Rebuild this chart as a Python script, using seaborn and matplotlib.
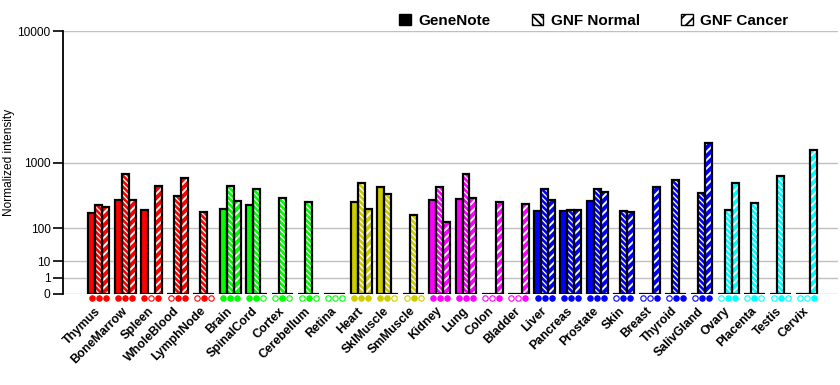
import numpy as np
import pandas as pd
import matplotlib
matplotlib.use("Agg")
import matplotlib.pyplot as plt
import matplotlib.transforms as mtransforms
from matplotlib.patches import Patch, Rectangle
import seaborn as sns

tissues = ["Thymus", "BoneMarrow", "Spleen", "WholeBlood", "LymphNode",
           "Brain", "SpinalCord", "Cortex", "Cerebellum", "Retina",
           "Heart", "SklMuscle", "SmMuscle",
           "Kidney", "Lung", "Colon", "Bladder",
           "Liver", "Pancreas", "Prostate", "Skin", "Breast", "Thyroid", "SalivGland",
           "Ovary", "Placenta", "Testis", "Cervix"]
tissue_colors = (["#FF0000"] * 5 + ["#00FF00"] * 5 + ["#CCCC00"] * 3 +
                 ["#FF00FF"] * 4 + ["#0000FF"] * 7 + ["#00FFFF"] * 4)

genenote = [202, 327, 225, 0, 0,
            237, 275, 0, 0, 0,
            308, 507, 0,
            330, 342, 0, 0,
            219, 219, 319, 0, 0, 0, 0,
            0, 0, 0, 0]
gnf_normal = [275, 741, 0, 380, 210,
              524, 477, 354, 308, 0,
              573, 406, 184,
              507, 741, 0, 0,
              477, 228, 477, 219, 0, 627, 419,
              228, 297, 701, 0]
gnf_cancer = [256, 327, 524, 658, 0,
              319, 0, 0, 0, 0,
              237, 0, 0,
              137, 354, 301, 286,
              330, 228, 434, 210, 507, 0, 1589,
              573, 0, 0, 1349]

# presence calls shown under each bar (1 = filled, 0 = hollow)
calls = ["111", "111", "101", "011", "010",
         "111", "110", "010", "010", "000",
         "111", "110", "010",
         "111", "111", "001", "001",
         "111", "111", "111", "011", "001", "011", "011",
         "011", "010", "010", "001"]

sources = ["GeneNote", "GNF Normal", "GNF Cancer"]
hatches = ["", "\\\\\\\\\\\\", "////"]
hatch_lw = [1.0, 0.9, 1.4]
y_ticks = [0, 1, 10, 100, 1000, 10000]

df = pd.DataFrame({
    "tissue": tissues * 3,
    "source": np.repeat(sources, len(tissues)),
    "value": genenote + gnf_normal + gnf_cancer,
})

plt.rcParams["font.family"] = ["Liberation Sans", "DejaVu Sans"]
plt.rcParams["hatch.linewidth"] = 1.3

fig = plt.figure(figsize=(8.4, 3.85), dpi=100)
ax = fig.add_axes([0.075, 0.2364, 0.923, 0.6823])

sns.barplot(data=df, x="tissue", y="value", hue="source", order=tissues,
            hue_order=sources, width=0.8, ax=ax, legend=False, errorbar=None)

# power scale: each decade is twice as tall as the one below
p = np.log10(2)
ax.set_yscale("function", functions=(lambda v: np.sign(v) * np.abs(v) ** p,
                                     lambda v: np.sign(v) * np.abs(v) ** (1 / p)))

# restyle the bars: tissue colour, white hatch, black outline drawn on top
n = len(tissues)
bw = 0.8 / 3
for bar in list(ax.patches):
    cx = bar.get_x() + bar.get_width() / 2
    i = int(round(cx))
    j = int(round((cx - i) / bw)) + 1
    bar.set_facecolor(tissue_colors[i])
    bar.set_edgecolor("white")
    bar.set_linewidth(0)
    bar.set_hatch(hatches[j])
    if hasattr(bar, "set_hatch_linewidth"):
        bar.set_hatch_linewidth(hatch_lw[j])
    ax.add_patch(Rectangle((bar.get_x(), 0), bar.get_width(), bar.get_height(),
                           fill=False, edgecolor="black", linewidth=1.6,
                           zorder=bar.get_zorder() + 0.1))

# call markers below the baseline
trans = mtransforms.blended_transform_factory(ax.transData, ax.transAxes)
for i, c in enumerate(calls):
    for j in range(3):
        x = i + (j - 1) * bw
        filled = c[j] == "1"
        ax.plot(x, -0.016, "o", transform=trans, clip_on=False, ms=3.9,
                mfc=tissue_colors[i] if filled else "white",
                mec=tissue_colors[i], mew=0.8)

ax.set_ylim(0, 10000)
ax.set_xlim(-1.37, n - 1 + 1.2)
ax.set_yticks(y_ticks)
ax.set_yticklabels([str(t) for t in y_ticks], fontsize=8.6)
ax.yaxis.grid(True, color="#C0C0C0", linewidth=1)
ax.set_axisbelow(True)
for s in ["top", "right", "bottom"]:
    ax.spines[s].set_visible(False)
ax.spines["left"].set_linewidth(1.3)
ax.tick_params(axis="y", length=7, width=1.2, pad=2)
ax.tick_params(axis="x", length=0, pad=11)
ax.set_xticks(range(n))
ax.set_xticklabels(tissues, rotation=45, ha="right", va="center",
                   rotation_mode="anchor", fontsize=8.8, fontweight="bold")
ax.set_xlabel("")
ax.set_ylabel("Normalized intensity", fontsize=8.6, labelpad=2)

handles = [Patch(facecolor="black", edgecolor="black", label=sources[0]),
           Patch(facecolor="white", edgecolor="black", hatch="\\\\\\\\", label=sources[1]),
           Patch(facecolor="white", edgecolor="black", hatch="///", label=sources[2])]
fig.legend(handles=handles, loc="center", bbox_to_anchor=(0.707, 0.945), ncol=3,
           frameon=False, prop={"size": 11, "weight": "bold"},
           handlelength=0.75, handleheight=0.75, handletextpad=0.5, columnspacing=2.7)

fig.savefig("out.png", dpi=100)
